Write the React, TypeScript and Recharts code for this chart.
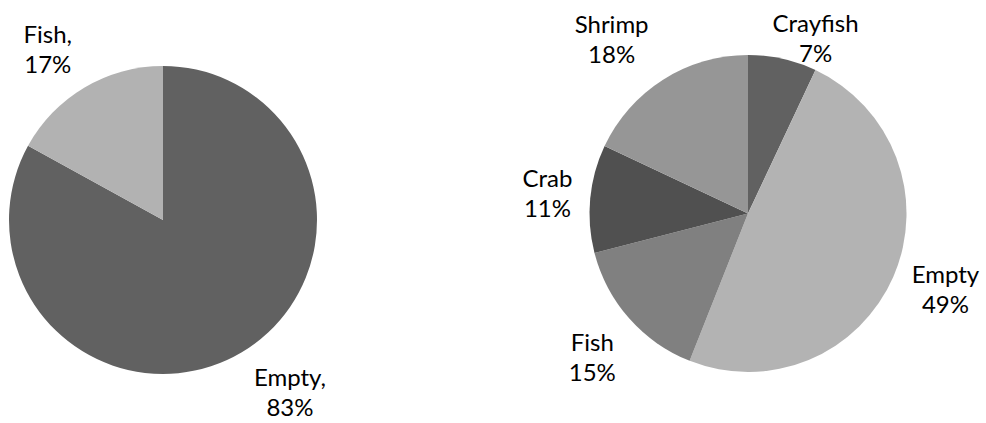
import { PieChart, Pie, Cell } from 'recharts';

const leftCategories = ['Empty', 'Fish'];
const leftValues = [83, 17];
const rightCategories = ['Crayfish', 'Empty', 'Fish', 'Crab', 'Shrimp'];
const rightValues = [7, 49, 15, 11, 18];

const leftColors = ['#616161', '#b2b2b2'];
const rightColors = ['#616161', '#b3b3b3', '#808080', '#505050', '#969696'];

// label placement: extra radius beyond the slice, and angle nudge (deg)
const leftLabelGap = [60, 52];
const leftLabelTurn = [5.8, 3.4];
const rightLabelGap = [30, 53, 53, 43, 63];
const rightLabelTurn = [-8.4, 2.4, 1.2, -0.3, 5.6];

const leftData = leftCategories.map((name, i) => ({ name, value: leftValues[i] }));
const rightData = rightCategories.map((name, i) => ({ name, value: rightValues[i] }));

const RADIAN = Math.PI / 180;
const FONT = 'Lato, "Open Sans", sans-serif';

function makeLabel(gaps: number[], turns: number[], comma: boolean) {
  return (props: any) => {
    const { cx, cy, midAngle, outerRadius, index, name, value } = props;
    const ang = (midAngle + turns[index]) * RADIAN;
    const r = outerRadius + gaps[index];
    const x = cx + r * Math.cos(-ang);
    const y = cy + r * Math.sin(-ang);
    return (
      <text x={x} y={y} textAnchor="middle" fill="#000" fontSize={24} fontFamily={FONT}>
        <tspan x={x} y={y - 6}>{name + (comma ? ',' : '')}</tspan>
        <tspan x={x} y={y + 24}>{value + '%'}</tspan>
      </text>
    );
  };
}

export default function App() {
  return (
    <div style={{ position: 'absolute', left: 0, top: 0, background: '#fff' }}>
      <PieChart width={986} height={423} margin={{ top: 0, right: 0, bottom: 0, left: 0 }}>
        <Pie
          data={leftData}
          dataKey="value"
          nameKey="name"
          cx={163}
          cy={220}
          outerRadius={154}
          startAngle={90}
          endAngle={-270}
          stroke="none"
          labelLine={false}
          label={makeLabel(leftLabelGap, leftLabelTurn, true)}
          isAnimationActive={false}
        >
          {leftData.map((d, i) => (
            <Cell key={d.name} fill={leftColors[i]} />
          ))}
        </Pie>
        <Pie
          data={rightData}
          dataKey="value"
          nameKey="name"
          cx={748}
          cy={213.5}
          outerRadius={158.5}
          startAngle={90}
          endAngle={-270}
          stroke="none"
          labelLine={false}
          label={makeLabel(rightLabelGap, rightLabelTurn, false)}
          isAnimationActive={false}
        >
          {rightData.map((d, i) => (
            <Cell key={d.name} fill={rightColors[i]} />
          ))}
        </Pie>
      </PieChart>
    </div>
  );
}
